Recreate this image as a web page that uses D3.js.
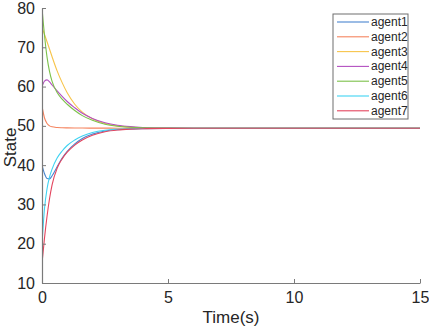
<!DOCTYPE html>
<html>
<head>
<meta charset="utf-8">
<script src="https://cdn.jsdelivr.net/npm/d3@7"></script>
<style>
  html, body { margin: 0; padding: 0; background: #fff; }
  svg { display: block; }
  text { font-family: "Liberation Sans", Arial, Helvetica, sans-serif; }
</style>
</head>
<body>
<svg id="chart" width="429" height="329"></svg>
<script>
// ---- data ----
const times = [0, 0.1, 0.2, 0.3, 0.4, 0.6, 0.8, 1.0, 1.3, 1.6, 2.0, 2.5, 3.0, 3.5, 4, 5, 6, 8, 10, 15];
const agentNames = ["agent1", "agent2", "agent3", "agent4", "agent5", "agent6", "agent7"];
const agent1 = [40, 37.8, 36.6, 36.5, 37.3, 39.6, 41.8, 43.5, 45.4, 46.8, 47.9, 48.7, 49.05, 49.22, 49.3, 49.37, 49.39, 49.4, 49.4, 49.4];
const agent2 = [55, 52.0, 50.6, 50.0, 49.75, 49.58, 49.52, 49.49, 49.46, 49.44, 49.43, 49.42, 49.41, 49.41, 49.4, 49.4, 49.4, 49.4, 49.4, 49.4];
const agent3 = [75, 73.3, 71.4, 69.5, 67.6, 64.0, 61.0, 58.4, 55.5, 53.5, 51.8, 50.6, 50.0, 49.7, 49.55, 49.44, 49.41, 49.4, 49.4, 49.4];
const agent4 = [60, 61.4, 61.7, 61.2, 60.4, 58.9, 57.5, 56.2, 54.6, 53.2, 51.9, 50.8, 50.15, 49.8, 49.6, 49.45, 49.41, 49.4, 49.4, 49.4];
const agent5 = [80, 73.0, 67.5, 63.8, 61.3, 58.5, 56.8, 55.5, 53.9, 52.6, 51.4, 50.4, 49.9, 49.65, 49.52, 49.43, 49.41, 49.4, 49.4, 49.4];
const agent6 = [20, 29.0, 34.0, 37.0, 39.0, 41.8, 43.6, 45.0, 46.4, 47.4, 48.3, 48.9, 49.15, 49.28, 49.34, 49.38, 49.39, 49.4, 49.4, 49.4];
const agent7 = [15, 21.5, 27.0, 31.5, 35.0, 39.2, 41.6, 43.3, 45.1, 46.4, 47.6, 48.5, 48.95, 49.17, 49.28, 49.36, 49.39, 49.4, 49.4, 49.4];
const agentColors = ["#4a86d0", "#f5845f", "#f7c44a", "#b34fc0", "#7cc14a", "#3fd3f2", "#e3455e"];
const xTicks = [0, 5, 10, 15];
const yTicks = [10, 20, 30, 40, 50, 60, 70, 80];
const series = [agent1, agent2, agent3, agent4, agent5, agent6, agent7];

// ---- layout ----
const svg = d3.select("#chart");
const L = 42, R = 420, T = 8, B = 283;
const x = d3.scaleLinear().domain([0, 15]).range([L, R]);
const y = d3.scaleLinear().domain([10, 80]).range([B, T]);
const axisColor = "#7a7a7a";
const textColor = "#262626";

svg.append("defs").append("clipPath").attr("id", "clip")
  .append("rect").attr("x", L).attr("y", T - 1).attr("width", R - L + 1).attr("height", B - T + 2);

// lines
const line = d3.line().x(d => x(d[0])).y(d => y(d[1])).curve(d3.curveMonotoneX);
const g = svg.append("g").attr("clip-path", "url(#clip)");
series.forEach((s, i) => {
  g.append("path")
    .datum(times.map((t, k) => [t, s[k]]))
    .attr("d", line)
    .attr("fill", "none")
    .attr("stroke", agentColors[i])
    .attr("stroke-width", 1.1);
});

// axes
const xAxis = d3.axisBottom(x).tickValues(xTicks).tickSizeInner(-4).tickSizeOuter(0).tickPadding(9);
const yAxis = d3.axisLeft(y).tickValues(yTicks).tickSizeInner(-4).tickSizeOuter(0).tickPadding(7);
const gx = svg.append("g").attr("transform", `translate(0,${B})`).call(xAxis);
const gy = svg.append("g").attr("transform", `translate(${L},0)`).call(yAxis);
[gx, gy].forEach(a => {
  a.select(".domain").attr("stroke", axisColor).attr("stroke-width", 1.2);
  a.selectAll(".tick line").attr("stroke", axisColor);
  a.selectAll(".tick text").attr("fill", textColor).style("font-size", "16px")
    .style("font-family", '"Liberation Sans", Arial, sans-serif');
});

// axis labels
svg.append("text").attr("x", (L + R) / 2).attr("y", 323).attr("text-anchor", "middle")
  .attr("fill", textColor).style("font-size", "17px").text("Time(s)");
svg.append("text").attr("transform", `translate(16,${(T + B) / 2 + 2}) rotate(-90)`).attr("text-anchor", "middle")
  .attr("fill", textColor).style("font-size", "17px").text("State");

// legend
const lgX = 333, lgY = 14, lgW = 75, lgH = 105, rowH = 14.8;
const lg = svg.append("g");
lg.append("rect").attr("x", lgX).attr("y", lgY).attr("width", lgW).attr("height", lgH)
  .attr("fill", "#fff").attr("stroke", "#6e6e6e").attr("stroke-width", 1);
agentNames.forEach((n, i) => {
  const yy = lgY + 8 + i * rowH;
  lg.append("line").attr("x1", lgX + 4).attr("x2", lgX + 36).attr("y1", yy).attr("y2", yy)
    .attr("stroke", agentColors[i]).attr("stroke-width", 1.1);
  lg.append("text").attr("x", lgX + 38).attr("y", yy + 4).attr("fill", textColor)
    .style("font-size", "12px").text(n);
});
</script>
</body>
</html>
